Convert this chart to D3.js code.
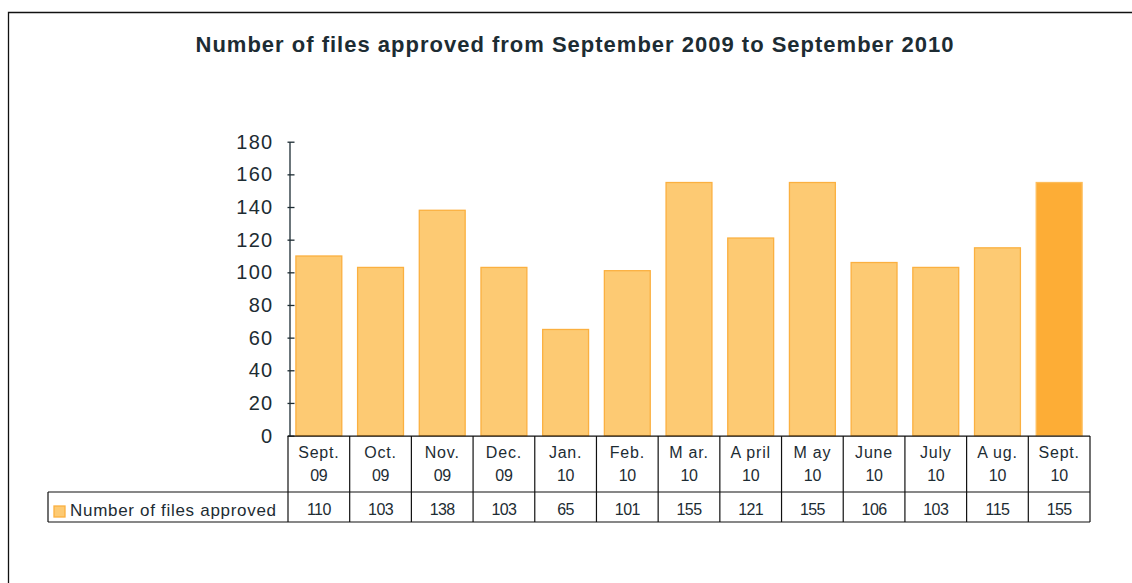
<!DOCTYPE html>
<html>
<head>
<meta charset="utf-8">
<script src="https://cdn.jsdelivr.net/npm/d3@7"></script>
<style>
  html, body { margin: 0; padding: 0; background: #fff; }
  svg { display: block; font-family: "Liberation Sans", Arial, sans-serif; }
</style>
</head>
<body>
<div id="chart"></div>
<script>
// ---- Data ----
const months = ['Sept. 09', 'Oct. 09', 'Nov. 09', 'Dec. 09', 'Jan. 10', 'Feb. 10', 'Mar. 10',
                'April 10', 'May 10', 'June 10', 'July 10', 'Aug. 10', 'Sept. 10'];
const monthLine1 = ['Sept.', 'Oct.', 'Nov.', 'Dec.', 'Jan.', 'Feb.', 'M ar.',
                    'A pril', 'M ay', 'June', 'July', 'A ug.', 'Sept.'];
const monthLine2 = ['09', '09', '09', '09', '10', '10', '10', '10', '10', '10', '10', '10', '10'];
const filesApproved = [110, 103, 138, 103, 65, 101, 155, 121, 155, 106, 103, 115, 155];
const yTicks = [0, 20, 40, 60, 80, 100, 120, 140, 160, 180];
const seriesName = 'Number of files approved';
const titleText = 'Number of files approved from September 2009 to September 2010';

// ---- Dimensions ----
const width = 1132, height = 583;
const plot = { left: 288, right: 1090, top: 141.7, bottom: 435.6 };
const table = { legendLeft: 48, rowMid: 492, bottom: 522 };
const textColor = '#1d2c33';

const svg = d3.select('#chart').append('svg')
  .attr('width', width)
  .attr('height', height);

// Outer frame (runs off the page on right and bottom)
svg.append('path')
  .attr('d', `M8.5,${height + 2}V12.5H${width + 2}`)
  .attr('fill', 'none')
  .attr('stroke', '#111')
  .attr('stroke-width', 1.3);

// Title
svg.append('text')
  .attr('x', 575)
  .attr('y', 52)
  .attr('text-anchor', 'middle')
  .attr('font-size', '22px')
  .attr('letter-spacing', '1px')
  .attr('font-weight', 'bold')
  .attr('fill', textColor)
  .text(titleText);

// ---- Scales ----
const x = d3.scaleBand()
  .domain(months)
  .range([plot.left, plot.right])
  .paddingInner(0.24)
  .paddingOuter(0.12);

const y = d3.scaleLinear()
  .domain([0, 180])
  .range([plot.bottom, plot.top]);

// ---- Bars ----
svg.append('g').selectAll('rect')
  .data(filesApproved)
  .join('rect')
  .attr('x', (d, i) => x(months[i]) + 0.5)
  .attr('y', d => y(d))
  .attr('width', x.bandwidth() - 1)
  .attr('height', d => y(0) - y(d))
  .attr('fill', (d, i) => i === months.length - 1 ? '#fdad36' : '#fdca73')
  .attr('stroke', (d, i) => i === months.length - 1 ? '#fdbd5a' : '#fbb040')
  .attr('stroke-width', 1.3);

// ---- Y axis ----
const yAxis = d3.axisLeft(y)
  .tickValues(yTicks)
  .tickSizeInner(-5)
  .tickSizeOuter(0)
  .tickPadding(16);

const yAxisG = svg.append('g')
  .attr('transform', `translate(${plot.left + 1.5},0)`)
  .call(yAxis);

yAxisG.select('.domain').attr('stroke', textColor).attr('stroke-width', 1.3);
yAxisG.selectAll('.tick line').attr('stroke', textColor).attr('stroke-width', 1.3)
  .attr('x1', -2);
yAxisG.selectAll('.tick text')
  .attr('fill', textColor)
  .attr('font-size', '20px')
  .attr('letter-spacing', '1.3px')
  .attr('font-family', '"Liberation Sans", Arial, sans-serif');

// ---- Data table ----
const step = x.step();
const colLeft = i => plot.left + i * step;
const gridG = svg.append('g')
  .attr('stroke', '#111')
  .attr('stroke-width', 1.2)
  .attr('fill', 'none');

// horizontal rules
gridG.append('line').attr('x1', plot.left).attr('x2', plot.right)
  .attr('y1', plot.bottom + 0.5).attr('y2', plot.bottom + 0.5);
gridG.append('line').attr('x1', table.legendLeft).attr('x2', plot.right)
  .attr('y1', table.rowMid).attr('y2', table.rowMid);
gridG.append('line').attr('x1', table.legendLeft).attr('x2', plot.right)
  .attr('y1', table.bottom).attr('y2', table.bottom);
// left edge of legend cell
gridG.append('line').attr('x1', table.legendLeft).attr('x2', table.legendLeft)
  .attr('y1', table.rowMid).attr('y2', table.bottom);
// column dividers
gridG.selectAll('line.col')
  .data(d3.range(months.length + 1))
  .join('line')
  .attr('class', 'col')
  .attr('x1', i => colLeft(i)).attr('x2', i => colLeft(i))
  .attr('y1', plot.bottom + 0.5).attr('y2', table.bottom);

// category labels (two lines)
const catG = svg.append('g')
  .attr('fill', textColor)
  .attr('font-size', '16px')
  .attr('text-anchor', 'middle');

catG.selectAll('text.l1')
  .data(months)
  .join('text')
  .attr('class', 'l1')
  .attr('x', d => x(d) + x.bandwidth() / 2)
  .attr('y', 457.5)
  .attr('letter-spacing', '0.8px')
  .text((d, i) => monthLine1[i]);

catG.selectAll('text.l2')
  .data(months)
  .join('text')
  .attr('class', 'l2')
  .attr('x', d => x(d) + x.bandwidth() / 2)
  .attr('y', 480.5)
  .attr('letter-spacing', '-0.3px')
  .text((d, i) => monthLine2[i]);

// value row
catG.selectAll('text.val')
  .data(filesApproved)
  .join('text')
  .attr('class', 'val')
  .attr('x', (d, i) => x(months[i]) + x.bandwidth() / 2)
  .attr('y', 514.5)
  .attr('letter-spacing', '-0.6px')
  .text(d => d);

// legend key + label
svg.append('rect')
  .attr('x', 54)
  .attr('y', 506)
  .attr('width', 11)
  .attr('height', 11)
  .attr('fill', '#fdca73')
  .attr('stroke', '#fbb040')
  .attr('stroke-width', 1.3);

svg.append('text')
  .attr('x', 70)
  .attr('y', 516)
  .attr('fill', textColor)
  .attr('font-size', '17px')
  .attr('letter-spacing', '0.7px')
  .text(seriesName);
</script>
</body>
</html>
